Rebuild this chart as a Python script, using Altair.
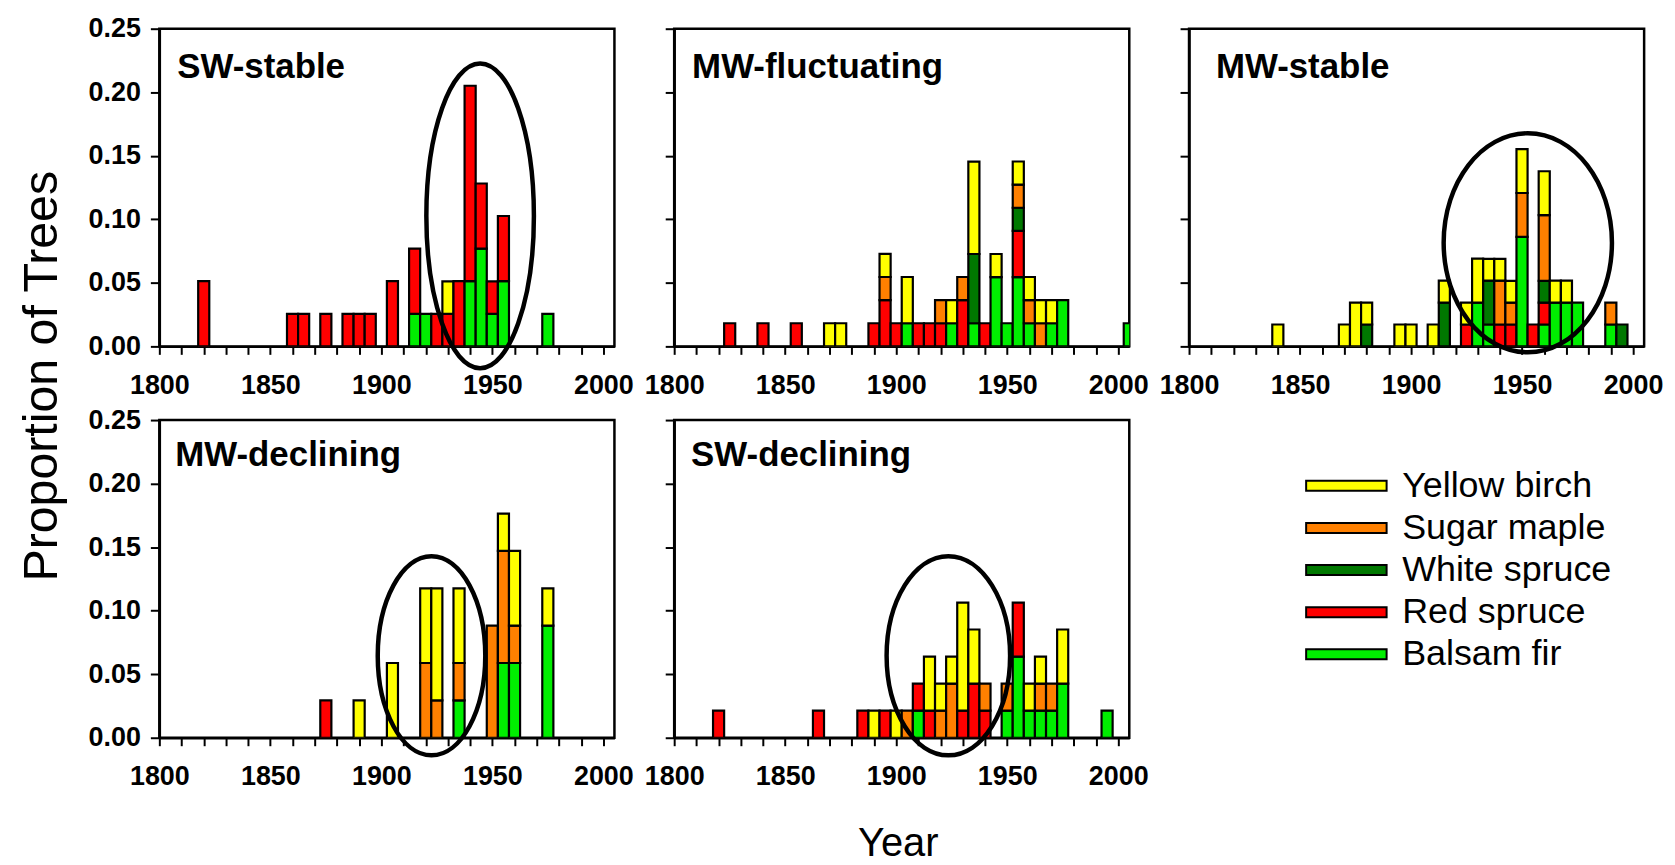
import altair as alt
import pandas as pd

# ---------------- data ----------------
SPECIES = ["Yellow birch", "Sugar maple", "White spruce", "Red spruce", "Balsam fir"]
SPECIES_COLORS = ["#FFFF00", "#FF8000", "#007800", "#FF0000", "#00EE00"]
STACK_BOTTOM_TO_TOP = ["Balsam fir", "Red spruce", "White spruce", "Sugar maple", "Yellow birch"]

X_TICKS = list(range(1800, 2001, 10))
Y_TICKS = [0.0, 0.05, 0.10, 0.15, 0.20, 0.25]

# (year, species, proportion of trees)
SW_STABLE = [
    (1820, "Red spruce", 0.0513),
    (1860, "Red spruce", 0.0256),
    (1865, "Red spruce", 0.0256),
    (1875, "Red spruce", 0.0256),
    (1885, "Red spruce", 0.0256),
    (1890, "Red spruce", 0.0256),
    (1895, "Red spruce", 0.0256),
    (1905, "Red spruce", 0.0513),
    (1915, "Balsam fir", 0.0256), (1915, "Red spruce", 0.0513),
    (1920, "Balsam fir", 0.0256),
    (1925, "Red spruce", 0.0256),
    (1930, "Red spruce", 0.0256), (1930, "Yellow birch", 0.0256),
    (1935, "Red spruce", 0.0513),
    (1940, "Balsam fir", 0.0513), (1940, "Red spruce", 0.1538),
    (1945, "Balsam fir", 0.0769), (1945, "Red spruce", 0.0513),
    (1950, "Balsam fir", 0.0256), (1950, "Red spruce", 0.0256),
    (1955, "Balsam fir", 0.0513), (1955, "Red spruce", 0.0513),
    (1975, "Balsam fir", 0.0256),
]

MW_FLUCTUATING = [
    (1825, "Red spruce", 0.0182),
    (1840, "Red spruce", 0.0182),
    (1855, "Red spruce", 0.0182),
    (1870, "Yellow birch", 0.0182),
    (1875, "Yellow birch", 0.0182),
    (1890, "Red spruce", 0.0182),
    (1895, "Red spruce", 0.0364), (1895, "Sugar maple", 0.0182), (1895, "Yellow birch", 0.0182),
    (1900, "Red spruce", 0.0182),
    (1905, "Balsam fir", 0.0182), (1905, "Yellow birch", 0.0364),
    (1910, "Red spruce", 0.0182),
    (1915, "Red spruce", 0.0182),
    (1920, "Red spruce", 0.0182), (1920, "Sugar maple", 0.0182),
    (1925, "Balsam fir", 0.0182), (1925, "Yellow birch", 0.0182),
    (1930, "Red spruce", 0.0364), (1930, "Sugar maple", 0.0182),
    (1935, "Balsam fir", 0.0182), (1935, "White spruce", 0.0545), (1935, "Yellow birch", 0.0727),
    (1940, "Red spruce", 0.0182),
    (1945, "Balsam fir", 0.0545), (1945, "Yellow birch", 0.0182),
    (1950, "Balsam fir", 0.0182),
    (1955, "Balsam fir", 0.0545), (1955, "Red spruce", 0.0364), (1955, "White spruce", 0.0182),
    (1955, "Sugar maple", 0.0182), (1955, "Yellow birch", 0.0182),
    (1960, "Balsam fir", 0.0182), (1960, "Sugar maple", 0.0182), (1960, "Yellow birch", 0.0182),
    (1965, "Sugar maple", 0.0182), (1965, "Yellow birch", 0.0182),
    (1970, "Balsam fir", 0.0182), (1970, "Yellow birch", 0.0182),
    (1975, "Balsam fir", 0.0364),
    (2005, "Balsam fir", 0.0182),
]

MW_STABLE = [
    (1840, "Yellow birch", 0.0172),
    (1870, "Yellow birch", 0.0172),
    (1875, "Yellow birch", 0.0345),
    (1880, "White spruce", 0.0172), (1880, "Yellow birch", 0.0172),
    (1895, "Yellow birch", 0.0172),
    (1900, "Yellow birch", 0.0172),
    (1910, "Yellow birch", 0.0172),
    (1915, "White spruce", 0.0345), (1915, "Yellow birch", 0.0172),
    (1925, "Red spruce", 0.0172), (1925, "Yellow birch", 0.0172),
    (1930, "Balsam fir", 0.0345), (1930, "Yellow birch", 0.0345),
    (1935, "Balsam fir", 0.0172), (1935, "White spruce", 0.0345), (1935, "Yellow birch", 0.0172),
    (1940, "Red spruce", 0.0172), (1940, "Sugar maple", 0.0345), (1940, "Yellow birch", 0.0172),
    (1945, "Red spruce", 0.0172), (1945, "Sugar maple", 0.0172), (1945, "Yellow birch", 0.0172),
    (1950, "Balsam fir", 0.0862), (1950, "Sugar maple", 0.0345), (1950, "Yellow birch", 0.0345),
    (1955, "Red spruce", 0.0172),
    (1960, "Balsam fir", 0.0172), (1960, "Red spruce", 0.0172), (1960, "White spruce", 0.0172),
    (1960, "Sugar maple", 0.0517), (1960, "Yellow birch", 0.0345),
    (1965, "Balsam fir", 0.0345), (1965, "Yellow birch", 0.0172),
    (1970, "Balsam fir", 0.0345), (1970, "Yellow birch", 0.0172),
    (1975, "Balsam fir", 0.0345),
    (1990, "Balsam fir", 0.0172), (1990, "Sugar maple", 0.0172),
    (1995, "White spruce", 0.0172),
]

MW_DECLINING = [
    (1875, "Red spruce", 0.0294),
    (1890, "Yellow birch", 0.0294),
    (1905, "Yellow birch", 0.0588),
    (1920, "Sugar maple", 0.0588), (1920, "Yellow birch", 0.0588),
    (1925, "Sugar maple", 0.0294), (1925, "Yellow birch", 0.0882),
    (1935, "Balsam fir", 0.0294), (1935, "Sugar maple", 0.0294), (1935, "Yellow birch", 0.0588),
    (1950, "Sugar maple", 0.0882),
    (1955, "Balsam fir", 0.0588), (1955, "Sugar maple", 0.0882), (1955, "Yellow birch", 0.0294),
    (1960, "Balsam fir", 0.0588), (1960, "Sugar maple", 0.0294), (1960, "Yellow birch", 0.0588),
    (1975, "Balsam fir", 0.0882), (1975, "Yellow birch", 0.0294),
]

SW_DECLINING = [
    (1820, "Red spruce", 0.0213),
    (1865, "Red spruce", 0.0213),
    (1885, "Red spruce", 0.0213),
    (1890, "Yellow birch", 0.0213),
    (1895, "Red spruce", 0.0213),
    (1900, "Yellow birch", 0.0213),
    (1905, "Sugar maple", 0.0213),
    (1910, "Balsam fir", 0.0213), (1910, "Red spruce", 0.0213),
    (1915, "Red spruce", 0.0213), (1915, "Yellow birch", 0.0426),
    (1920, "Sugar maple", 0.0213), (1920, "Yellow birch", 0.0213),
    (1925, "Sugar maple", 0.0426), (1925, "Yellow birch", 0.0213),
    (1930, "Red spruce", 0.0213), (1930, "Yellow birch", 0.0851),
    (1935, "Red spruce", 0.0426), (1935, "Yellow birch", 0.0426),
    (1940, "Red spruce", 0.0213), (1940, "Sugar maple", 0.0213),
    (1950, "Balsam fir", 0.0213), (1950, "Sugar maple", 0.0213),
    (1955, "Balsam fir", 0.0638), (1955, "Red spruce", 0.0426),
    (1960, "Balsam fir", 0.0213), (1960, "Yellow birch", 0.0213),
    (1965, "Balsam fir", 0.0213), (1965, "Sugar maple", 0.0213), (1965, "Yellow birch", 0.0213),
    (1970, "Balsam fir", 0.0213), (1970, "Sugar maple", 0.0213),
    (1975, "Balsam fir", 0.0426), (1975, "Yellow birch", 0.0426),
    (1995, "Balsam fir", 0.0213),
]

PANEL_NAMES = ["SW-stable", "MW-fluctuating", "MW-stable", "MW-declining", "SW-declining"]
PANEL_DATA = [SW_STABLE, MW_FLUCTUATING, MW_STABLE, MW_DECLINING, SW_DECLINING]

# highlighted periods (ellipse centre in data units: year, proportion)
ELLIPSE_CENTERS = {
    "SW-stable": (1944.5, 0.1027),
    "MW-stable": (1952.6, 0.0815),
    "MW-declining": (1922.6, 0.0645),
    "SW-declining": (1923.5, 0.0645),
}

# ---------------- styling ----------------
FONT = "Liberation Sans"
PANEL_W, PANEL_H = 457, 319
BAR_HALF_WIDTH = 2.5  # years
ELLIPSE_RADII_PX = {  # (half width, half height) in pixels
    "SW-stable": (54, 153),
    "MW-stable": (84.5, 110),
    "MW-declining": (54, 100),
    "SW-declining": (62, 100),
}
TITLE_POS = [(18, 50), (18, 50), (27, 49), (16, 46), (17, 46)]

LEGEND_SHAPE = "M-4,-0.5H4V0.5H-4Z"
LEGEND = alt.Legend(
    title=None,
    orient="none",
    legendX=1174,
    legendY=441,
    symbolType=LEGEND_SHAPE,
    symbolSize=408,
    symbolStrokeColor="black",
    symbolStrokeWidth=2,
    symbolOpacity=1,
    labelFont=FONT,
    labelFontSize=36,
    labelColor="black",
    labelLimit=0,
    labelOffset=38,
    rowPadding=6.3,
)


def ellipse_path(rx, ry):
    s = max(rx, ry)
    a, b = rx / s, ry / s
    path = f"M{-a},0A{a},{b},0,1,0,{a},0A{a},{b},0,1,0,{-a},0Z"
    return path, (2 * s) ** 2


def make_panel(idx, name, rows):
    df = pd.DataFrame(rows, columns=["year", "species", "proportion"])
    rank = {s: i for i, s in enumerate(STACK_BOTTOM_TO_TOP)}
    df["stack_rank"] = df["species"].map(rank)
    show_y_labels = idx in (0, 3)

    xscale = alt.Scale(domain=[1800, 2005], nice=False, zero=False)
    yscale = alt.Scale(domain=[0, 0.25], nice=False, zero=True)
    xaxis = alt.Axis(
        values=X_TICKS,
        labelExpr="datum.value % 50 === 0 ? datum.label : ''",
        format="d",
        title=None,
        grid=False,
        labelFlush=False,
        tickSize=8,
        labelPadding=18,
    )
    yaxis = alt.Axis(
        values=Y_TICKS,
        format=".2f",
        title=None,
        grid=False,
        labels=show_y_labels,
        labelFlush=False,
        tickSize=9,
        labelPadding=10,
    )

    bars = (
        alt.Chart(df)
        .transform_stack(
            stack="proportion",
            groupby=["year"],
            as_=["p0", "p1"],
            sort=[alt.SortField(field="stack_rank", order="ascending")],
        )
        .transform_calculate(
            x0=f"datum.year - {BAR_HALF_WIDTH}", x1=f"datum.year + {BAR_HALF_WIDTH}"
        )
        .mark_rect(stroke="black", strokeWidth=2.2, clip=True)
        .encode(
            x=alt.X("x0:Q", scale=xscale, axis=xaxis),
            x2="x1:Q",
            y=alt.Y("p0:Q", scale=yscale, axis=yaxis),
            y2="p1:Q",
            color=alt.Color(
                "species:N",
                scale=alt.Scale(domain=SPECIES, range=SPECIES_COLORS),
                legend=LEGEND,
            ),
        )
    )

    tx, ty = TITLE_POS[idx]
    label = (
        alt.Chart(pd.DataFrame({"name": [name]}))
        .mark_text(
            align="left", baseline="alphabetic", font=FONT, fontSize=35,
            fontWeight="bold", color="black",
        )
        .encode(text="name:N", x=alt.value(tx), y=alt.value(ty))
    )
    layers = [bars, label]

    if name in ELLIPSE_CENTERS:
        cx, cy = ELLIPSE_CENTERS[name]
        path, size = ellipse_path(*ELLIPSE_RADII_PX[name])
        ell = (
            alt.Chart(pd.DataFrame({"x0": [cx], "p0": [cy]}))
            .mark_point(
                shape=path, size=size, filled=False, stroke="black",
                strokeWidth=4.5, opacity=1, strokeOpacity=1,
            )
            .encode(
                x=alt.X("x0:Q", scale=xscale, axis=xaxis),
                y=alt.Y("p0:Q", scale=yscale, axis=yaxis),
            )
        )
        layers.append(ell)

    if idx == 0:
        ytitle = (
            alt.Chart(pd.DataFrame({"t": ["Proportion of Trees"]}))
            .mark_text(
                angle=270, align="center", baseline="middle", font=FONT,
                fontSize=48.5, color="black",
            )
            .encode(text="t:N", x=alt.value(-118), y=alt.value(349))
        )
        layers.append(ytitle)
    if idx == 4:
        xtitle = (
            alt.Chart(pd.DataFrame({"t": ["Year"]}))
            .mark_text(
                align="center", baseline="alphabetic", font=FONT,
                fontSize=40, color="black",
            )
            .encode(text="t:N", x=alt.value(225), y=alt.value(438))
        )
        layers.append(xtitle)

    return alt.layer(*layers).properties(width=PANEL_W, height=PANEL_H)


panels = [make_panel(i, n, d) for i, (n, d) in enumerate(zip(PANEL_NAMES, PANEL_DATA))]

chart = (
    alt.concat(*panels, columns=3, spacing={"row": 74, "column": 60}, bounds="flush")
    .resolve_scale(color="shared")
    .properties(padding={"left": 16, "top": 11, "right": 10, "bottom": 5}, background="white")
    .configure_view(stroke="black", strokeWidth=2.5)
    .configure_axis(
        domainColor="black",
        domainWidth=2.5,
        tickColor="black",
        tickWidth=2,
        labelColor="black",
        labelFont=FONT,
        labelFontWeight="bold",
        labelFontSize=27,
        grid=False,
    )
)

chart.save("out.html", embed_options={"renderer": "svg", "actions": False})
